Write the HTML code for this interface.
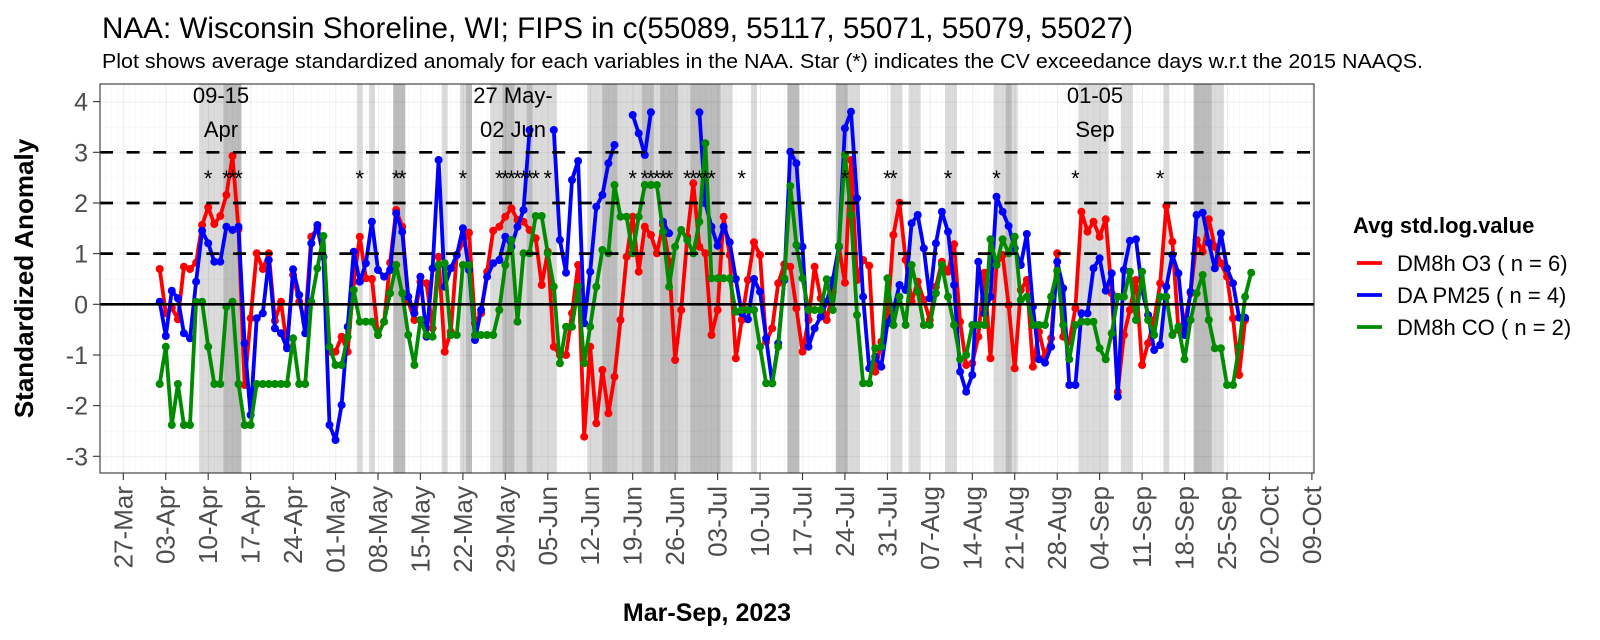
<!DOCTYPE html>
<html><head><meta charset="utf-8"><style>html,body{margin:0;padding:0;background:#fff}svg{display:block}text{font-family:"Liberation Sans",Arial,sans-serif}</style></head>
<body>
<svg width="1600" height="640" viewBox="0 0 1600 640" xmlns="http://www.w3.org/2000/svg">
<defs>
<pattern id="vmin" patternUnits="userSpaceOnUse" x="123.3" y="0" width="6.064" height="640"><line x1="0" y1="0" x2="0" y2="640" stroke="#f0f0f0" stroke-width="0.8"/></pattern>
<pattern id="vmaj" patternUnits="userSpaceOnUse" x="123.3" y="0" width="42.448" height="640"><line x1="0" y1="0" x2="0" y2="640" stroke="#e6e6e6" stroke-width="1.4"/></pattern>
<pattern id="hmin" patternUnits="userSpaceOnUse" x="0" y="278.97" width="1600" height="50.67"><line x1="0" y1="0" x2="1600" y2="0" stroke="#f0f0f0" stroke-width="0.8"/></pattern>
<pattern id="hmaj" patternUnits="userSpaceOnUse" x="0" y="304.3" width="1600" height="50.67"><line x1="0" y1="0" x2="1600" y2="0" stroke="#e6e6e6" stroke-width="1.4"/></pattern>
<marker id="mr" markerWidth="10" markerHeight="10" refX="5" refY="5" markerUnits="userSpaceOnUse"><circle cx="5" cy="5" r="4" fill="#ff0000"/></marker>
<marker id="mb" markerWidth="10" markerHeight="10" refX="5" refY="5" markerUnits="userSpaceOnUse"><circle cx="5" cy="5" r="4" fill="#0000ff"/></marker>
<marker id="mg" markerWidth="10" markerHeight="10" refX="5" refY="5" markerUnits="userSpaceOnUse"><circle cx="5" cy="5" r="4" fill="#008b00"/></marker>
<clipPath id="pc"><rect x="100" y="84" width="1214" height="389"/></clipPath>
</defs>

<text x="102" y="38" font-size="30" textLength="1031" lengthAdjust="spacingAndGlyphs">NAA: Wisconsin Shoreline, WI; FIPS in c(55089, 55117, 55071, 55079, 55027)</text>
<text x="102" y="68" font-size="20" textLength="1321" lengthAdjust="spacingAndGlyphs">Plot shows average standardized anomaly for each variables in the NAA. Star (*) indicates the CV exceedance days w.r.t the 2015 NAAQS.</text>

<g clip-path="url(#pc)">
<rect x="100" y="84" width="1214" height="389" fill="#fff"/>
<rect x="100" y="84" width="1214" height="389" fill="url(#vmin)"/>
<rect x="100" y="84" width="1214" height="389" fill="url(#hmin)"/>
<rect x="100" y="84" width="1214" height="389" fill="url(#vmaj)"/>
<rect x="100" y="84" width="1214" height="389" fill="url(#hmaj)"/>
<g fill="#000" fill-opacity="0.14">
<rect x="199.1" y="84" width="42.4" height="389"/>
<rect x="223.4" y="84" width="18.1" height="389"/>
<rect x="356.8" y="84" width="6" height="389"/>
<rect x="368.9" y="84" width="6.1" height="389"/>
<rect x="393.2" y="84" width="12.1" height="389"/>
<rect x="393.2" y="84" width="12.1" height="389"/>
<rect x="441.7" y="84" width="6" height="389"/>
<rect x="459.9" y="84" width="12.1" height="389"/>
<rect x="465.9" y="84" width="6.1" height="389"/>
<rect x="490.2" y="84" width="66.7" height="389"/>
<rect x="502.3" y="84" width="12.1" height="389"/>
<rect x="526.6" y="84" width="6" height="389"/>
<rect x="587.2" y="84" width="145.5" height="389"/>
<rect x="602.4" y="84" width="15.1" height="389"/>
<rect x="641.8" y="84" width="12.1" height="389"/>
<rect x="660" y="84" width="18.2" height="389"/>
<rect x="690.3" y="84" width="30.3" height="389"/>
<rect x="750.9" y="84" width="6.1" height="389"/>
<rect x="787.3" y="84" width="12.1" height="389"/>
<rect x="787.3" y="84" width="12.1" height="389"/>
<rect x="835.8" y="84" width="24.3" height="389"/>
<rect x="835.8" y="84" width="12.1" height="389"/>
<rect x="890.4" y="84" width="12.1" height="389"/>
<rect x="908.6" y="84" width="12.1" height="389"/>
<rect x="945" y="84" width="12" height="389"/>
<rect x="993.5" y="84" width="24.3" height="389"/>
<rect x="1005.6" y="84" width="6.1" height="389"/>
<rect x="1078.4" y="84" width="30.3" height="389"/>
<rect x="1120.8" y="84" width="12.1" height="389"/>
<rect x="1163.3" y="84" width="6" height="389"/>
<rect x="1193.6" y="84" width="18.2" height="389"/>
<rect x="1193.6" y="84" width="18.2" height="389"/>
<rect x="1211.8" y="84" width="12.1" height="389"/>
</g>

<g fill="none" stroke-width="3.8" stroke-linejoin="round">
<polyline stroke="#ff0000" marker-start="url(#mr)" marker-mid="url(#mr)" marker-end="url(#mr)" points="159.7,269 165.8,313.3 171.8,307.7 177.9,319.3 183.9,266.7 190,269 196.1,262.7 202.1,225 208.2,207.3 214.3,224 220.3,216 226.4,195 232.5,156 238.5,229.3 244.6,385 250.6,318.3 256.7,253.3 262.8,269 268.8,253.3 274.9,320.7 281,301.7 287,346.7 293.1,275 299.2,301.7 305.2,321.7 311.3,236.7 317.4,228.3 323.4,256.7 329.5,351.7 335.5,351.7 341.6,336.7 347.7,351.7 353.7,281.7 359.8,236.7 365.9,278.3 371.9,279 378,335 384.1,321.7 390.1,262.7 396.2,210 402.2,226.7 408.3,301.7 414.4,320 420.4,281.7 426.5,283.3 432.6,328.3 438.6,256.7 444.7,351.7 450.8,331.7 456.8,255 462.9,242.7 469,232.7 475,323.3 481.1,313.3 487.1,271.7 493.2,230.7 499.3,226.7 505.3,216.7 511.4,208.3 517.5,220 523.5,221.7 529.6,230 535.7,238.3 541.7,285 547.8,251.7 553.8,346.7 559.9,355 566,355 572,313.3 578.1,265 584.2,436.7 590.2,346.7 596.3,423.3 602.4,370 608.4,413.3 614.5,376.7 620.5,320 626.6,256.7 632.7,216.7 638.7,271.7 644.8,226.7 650.9,235 656.9,253.3 663,225 669.1,261.7 675.1,360 681.2,310 687.3,236.7 693.3,183.3 699.4,246.7 705.4,253.3 711.5,335 717.6,310 723.6,216.7 729.7,255 735.8,358.3 741.8,320 747.9,280 754,242.3 760,255 766.1,341.7 772.2,328.3 778.2,283.3 784.3,264.3 790.3,266.7 796.4,308.3 802.5,351.7 808.5,320 814.6,266.7 820.7,298.3 826.7,320 832.8,291.7 838.9,246.7 844.9,282.7 851,160 857,280 863.1,260 869.2,265.7 875.2,371.7 881.3,341.7 887.4,320 893.4,235 899.5,202.7 905.6,260 911.6,301.7 917.7,281.7 923.8,300 929.8,320 935.9,286.7 941.9,261.7 948,271.7 954.1,244.3 960.1,321.7 966.2,365 972.3,363.3 978.3,336.7 984.4,272.7 990.5,358.3 996.5,265 1002.6,255 1008.6,305 1014.7,368.3 1020.8,290 1026.8,280 1032.9,366.7 1039,331.7 1045,356.7 1051.1,338.3 1057.2,253.3 1063.2,336.7 1069.3,341.7 1075.4,308.3 1081.4,211.7 1087.5,231.7 1093.5,221.7 1099.6,236.7 1105.7,219.3 1111.7,293.3 1117.8,391.7 1123.9,335 1129.9,310 1136,280 1142.1,365 1148.1,343.3 1154.2,320 1160.2,283.3 1166.3,206 1172.4,241.7 1178.4,330 1184.5,323.3 1190.6,293.3 1196.6,240 1202.7,251.7 1208.8,219.3 1214.8,246.7 1220.9,263.3 1227,276.7 1233,318.3 1239.1,375 1245.1,320"/>

<g stroke="#0000ff">
<polyline marker-start="url(#mb)" marker-mid="url(#mb)" marker-end="url(#mb)" points="159.7,301.7 165.8,336 171.8,290.7 177.9,298.3 183.9,333.3 190,338.3 196.1,281.7 202.1,230.7 208.2,243.3 214.3,261.7 220.3,261.7 226.4,226.7 232.5,230 238.5,226.7 244.6,343.3 250.6,415 256.7,318.3 262.8,313.3 268.8,260 274.9,328.3 281,333.3 287,348.3 293.1,269.3 299.2,295 305.2,333.3 311.3,243.3 317.4,225 323.4,256.7 329.5,425 335.5,440 341.6,405 347.7,326.7 353.7,251.7 359.8,281.7 365.9,263.3 371.9,221.7 378,270 384.1,276.7 390.1,270 396.2,213.3 402.2,231.7 408.3,296.7 414.4,313.3 420.4,276.7 426.5,336.7 432.6,268.3 438.6,160 444.7,286.7 450.8,268.3 456.8,255 462.9,228.3 469,270 475,340 481.1,310 487.1,276.7 493.2,263.3 499.3,260 505.3,236.7 511.4,246.7 517.5,226.7 523.5,210 529.6,130"/>
<polyline marker-start="url(#mb)" marker-mid="url(#mb)" marker-end="url(#mb)" points="553.8,130 559.9,240 566,272.7 572,180 578.1,161 584.2,323.3 590.2,271.7 596.3,206.7 602.4,195 608.4,163.3 614.5,145"/>
<polyline marker-start="url(#mb)" marker-mid="url(#mb)" marker-end="url(#mb)" points="632.7,115 638.7,133.3 644.8,155 650.9,112.3"/>
<polyline marker-start="url(#mb)" marker-mid="url(#mb)" marker-end="url(#mb)" points="663,221.7 669.1,233.3"/>
<polyline marker-start="url(#mb)" marker-mid="url(#mb)" marker-end="url(#mb)" points="699.4,112.3 705.4,203.3 711.5,226.7 717.6,245.7 723.6,226.7 729.7,242.3 735.8,279 741.8,313.3 747.9,319.3 754,279 760,291.7 766.1,338.3 772.2,383.3 778.2,343.3 784.3,280 790.3,151.7 796.4,163.3 802.5,246.7 808.5,346.7 814.6,328.3 820.7,316.7 826.7,301.7 832.8,280 838.9,246.7 844.9,128.3 851,111.7 857,198.3 863.1,296.7 869.2,368.3 875.2,356.7 881.3,366.7 887.4,323.3 893.4,310 899.5,285 905.6,290 911.6,223.3 917.7,215 923.8,248.3 929.8,298.3 935.9,243.3 941.9,211.7 948,231.7 954.1,285 960.1,371.7 966.2,391.7 972.3,375 978.3,261.7 984.4,313.3 990.5,296.7 996.5,196.7 1002.6,211.7 1008.6,226 1014.7,248.3 1020.8,265 1026.8,234 1032.9,306.7 1039,359.3 1045,362.7 1051.1,346.7 1057.2,261.7 1063.2,288.3 1069.3,385 1075.4,385 1081.4,313.3 1087.5,313.3 1093.5,268.3 1099.6,258.3 1105.7,290.7 1111.7,273.3 1117.8,396.7 1123.9,270 1129.9,240.7 1136,239.3 1142.1,290 1148.1,315 1154.2,350 1160.2,345 1166.3,286.7 1172.4,255 1178.4,273.3 1184.5,335 1190.6,291.7 1196.6,215 1202.7,212.7 1208.8,242.7 1214.8,268.3 1220.9,233.3 1227,268.3 1233,283.3 1239.1,317.7 1245.1,317.7"/>
</g>

<polyline stroke="#008b00" marker-start="url(#mg)" marker-mid="url(#mg)" marker-end="url(#mg)" points="159.7,384 165.8,346.7 171.8,425 177.9,384 183.9,425 190,425 196.1,301.7 202.1,301.7 208.2,346.7 214.3,384 220.3,384 226.4,306.7 232.5,301.7 238.5,384 244.6,425 250.6,425 256.7,384 262.8,384 268.8,384 274.9,384 281,384 287,384 293.1,338.3 299.2,384 305.2,384 311.3,301.7 317.4,268.3 323.4,236 329.5,346.7 335.5,365 341.6,365 347.7,336.7 353.7,290 359.8,321.7 365.9,321.7 371.9,321.7 378,335 384.1,321.7 390.1,293.3 396.2,265 402.2,293.3 408.3,335 414.4,365 420.4,320 426.5,335 432.6,336.7 438.6,265 444.7,263.3 450.8,335 456.8,335 462.9,265 469,265 475,335 481.1,335 487.1,335 493.2,335 499.3,310 505.3,265 511.4,240 517.5,321.7 523.5,253.3 529.6,253.3 535.7,216 541.7,216 547.8,253.3 553.8,286.7 559.9,363.3 566,326.7 572,326.7 578.1,286.7 584.2,363.3 590.2,326.7 596.3,286.7 602.4,250 608.4,253.3 614.5,185 620.5,216.7 626.6,216.7 632.7,253.3 638.7,216.7 644.8,185 650.9,185 656.9,185 663,231.7 669.1,286.7 675.1,246.7 681.2,230 687.3,240 693.3,253.3 699.4,221.7 705.4,143.3 711.5,278.3 717.6,278.3 723.6,278.3 729.7,278.3 735.8,311.7 741.8,310 747.9,310 754,310 760,346.7 766.1,383.3 772.2,383.3 778.2,346.7 784.3,278.3 790.3,186 796.4,245 802.5,278.3 808.5,310 814.6,310 820.7,310 826.7,279.3 832.8,310 838.9,246 844.9,155 851,215 857,315 863.1,383.3 869.2,383.3 875.2,348.3 881.3,346.7 887.4,278.3 893.4,325 899.5,296.7 905.6,325 911.6,265 917.7,291.7 923.8,325 929.8,325 935.9,293.3 941.9,265 948,296.7 954.1,325 960.1,359.3 966.2,355 972.3,325 978.3,325 984.4,325 990.5,239.3 996.5,265 1002.6,239.3 1008.6,253.3 1014.7,236.7 1020.8,300 1026.8,296.7 1032.9,325 1039,325 1045,325 1051.1,296.7 1057.2,270.7 1063.2,325 1069.3,359.3 1075.4,325 1081.4,321.7 1087.5,321.7 1093.5,321.7 1099.6,348.3 1105.7,359.3 1111.7,333.3 1117.8,296.7 1123.9,296.7 1129.9,271.7 1136,320 1142.1,271.7 1148.1,320 1154.2,335 1160.2,296.7 1166.3,296.7 1172.4,335 1178.4,326.7 1184.5,359.3 1190.6,320 1196.6,293.3 1202.7,275 1208.8,320 1214.8,348.3 1220.9,348.3 1227,385 1233,385 1239.1,346.7 1245.1,296.7 1251.2,272.7"/>
</g>

<g stroke="#000" stroke-width="2.7">
<line x1="100" y1="152.3" x2="1314" y2="152.3" stroke-dasharray="13 13.6"/>
<line x1="100" y1="203" x2="1314" y2="203" stroke-dasharray="13 13.6"/>
<line x1="100" y1="253.6" x2="1314" y2="253.6" stroke-dasharray="13 13.6"/>
<line x1="100" y1="304.3" x2="1314" y2="304.3"/>
</g>

<g font-size="22" text-anchor="middle" fill="#000">
<text x="208.2" y="186">*</text><text x="226.4" y="186">*</text><text x="232.5" y="186">*</text><text x="238.5" y="186">*</text>
<text x="359.8" y="186">*</text><text x="396.2" y="186">*</text><text x="402.2" y="186">*</text><text x="462.9" y="186">*</text>
<text x="499.3" y="186">*</text><text x="505.3" y="186">*</text><text x="511.4" y="186">*</text><text x="517.5" y="186">*</text><text x="523.5" y="186">*</text><text x="529.6" y="186">*</text><text x="535.7" y="186">*</text>
<text x="547.8" y="186">*</text>
<text x="632.7" y="186">*</text><text x="644.8" y="186">*</text><text x="650.9" y="186">*</text><text x="656.9" y="186">*</text><text x="663" y="186">*</text><text x="669.1" y="186">*</text>
<text x="687.3" y="186">*</text><text x="693.3" y="186">*</text><text x="699.4" y="186">*</text><text x="705.4" y="186">*</text><text x="711.5" y="186">*</text>
<text x="741.8" y="186">*</text><text x="844.9" y="186">*</text><text x="887.4" y="186">*</text><text x="893.4" y="186">*</text>
<text x="948" y="186">*</text><text x="996.5" y="186">*</text><text x="1075.4" y="186">*</text><text x="1160.2" y="186">*</text>
</g>

<g font-size="22" text-anchor="middle" fill="#000">
<text x="221" y="103">09-15</text><text x="221" y="137">Apr</text>
<text x="513" y="103">27 May-</text><text x="513" y="137">02 Jun</text>
<text x="1095" y="103">01-05</text><text x="1095" y="137">Sep</text>
</g>
</g>

<rect x="100" y="84" width="1214" height="389" fill="none" stroke="#333" stroke-width="1.1"/>

<g stroke="#333" stroke-width="1.1">
<line x1="93" y1="101.6" x2="100" y2="101.6"/><line x1="93" y1="152.3" x2="100" y2="152.3"/><line x1="93" y1="203" x2="100" y2="203"/><line x1="93" y1="253.6" x2="100" y2="253.6"/><line x1="93" y1="304.3" x2="100" y2="304.3"/><line x1="93" y1="355" x2="100" y2="355"/><line x1="93" y1="405.6" x2="100" y2="405.6"/><line x1="93" y1="456.3" x2="100" y2="456.3"/>
</g>
<g font-size="25" text-anchor="end" fill="#4d4d4d">
<text x="88" y="110.6">4</text><text x="88" y="161.3">3</text><text x="88" y="212">2</text><text x="88" y="262.6">1</text><text x="88" y="313.3">0</text><text x="88" y="364">-1</text><text x="88" y="414.6">-2</text><text x="88" y="465.3">-3</text>
</g>
<text transform="translate(33,278.5) rotate(-90)" font-size="26" font-weight="bold" text-anchor="middle">Standardized Anomaly</text>

<g stroke="#333" stroke-width="1.1">
<line x1="123.3" y1="473" x2="123.3" y2="480"/><line x1="165.7" y1="473" x2="165.7" y2="480"/><line x1="208.2" y1="473" x2="208.2" y2="480"/><line x1="250.6" y1="473" x2="250.6" y2="480"/><line x1="293.1" y1="473" x2="293.1" y2="480"/><line x1="335.5" y1="473" x2="335.5" y2="480"/><line x1="378" y1="473" x2="378" y2="480"/><line x1="420.4" y1="473" x2="420.4" y2="480"/><line x1="462.9" y1="473" x2="462.9" y2="480"/><line x1="505.3" y1="473" x2="505.3" y2="480"/><line x1="547.8" y1="473" x2="547.8" y2="480"/><line x1="590.2" y1="473" x2="590.2" y2="480"/><line x1="632.7" y1="473" x2="632.7" y2="480"/><line x1="675.1" y1="473" x2="675.1" y2="480"/><line x1="717.6" y1="473" x2="717.6" y2="480"/><line x1="760" y1="473" x2="760" y2="480"/><line x1="802.5" y1="473" x2="802.5" y2="480"/><line x1="844.9" y1="473" x2="844.9" y2="480"/><line x1="887.4" y1="473" x2="887.4" y2="480"/><line x1="929.8" y1="473" x2="929.8" y2="480"/><line x1="972.3" y1="473" x2="972.3" y2="480"/><line x1="1014.7" y1="473" x2="1014.7" y2="480"/><line x1="1057.2" y1="473" x2="1057.2" y2="480"/><line x1="1099.6" y1="473" x2="1099.6" y2="480"/><line x1="1142.1" y1="473" x2="1142.1" y2="480"/><line x1="1184.5" y1="473" x2="1184.5" y2="480"/><line x1="1227" y1="473" x2="1227" y2="480"/><line x1="1269.4" y1="473" x2="1269.4" y2="480"/><line x1="1311.9" y1="473" x2="1311.9" y2="480"/>
</g>
<g font-size="26" text-anchor="end" fill="#4d4d4d">
<text transform="translate(132.3,486) rotate(-90)">27-Mar</text>
<text transform="translate(174.7,486) rotate(-90)">03-Apr</text>
<text transform="translate(217.2,486) rotate(-90)">10-Apr</text>
<text transform="translate(259.6,486) rotate(-90)">17-Apr</text>
<text transform="translate(302.1,486) rotate(-90)">24-Apr</text>
<text transform="translate(344.5,486) rotate(-90)">01-May</text>
<text transform="translate(387,486) rotate(-90)">08-May</text>
<text transform="translate(429.4,486) rotate(-90)">15-May</text>
<text transform="translate(471.9,486) rotate(-90)">22-May</text>
<text transform="translate(514.3,486) rotate(-90)">29-May</text>
<text transform="translate(556.8,486) rotate(-90)">05-Jun</text>
<text transform="translate(599.2,486) rotate(-90)">12-Jun</text>
<text transform="translate(641.7,486) rotate(-90)">19-Jun</text>
<text transform="translate(684.1,486) rotate(-90)">26-Jun</text>
<text transform="translate(726.6,486) rotate(-90)">03-Jul</text>
<text transform="translate(769,486) rotate(-90)">10-Jul</text>
<text transform="translate(811.5,486) rotate(-90)">17-Jul</text>
<text transform="translate(853.9,486) rotate(-90)">24-Jul</text>
<text transform="translate(896.4,486) rotate(-90)">31-Jul</text>
<text transform="translate(938.8,486) rotate(-90)">07-Aug</text>
<text transform="translate(981.3,486) rotate(-90)">14-Aug</text>
<text transform="translate(1023.7,486) rotate(-90)">21-Aug</text>
<text transform="translate(1066.2,486) rotate(-90)">28-Aug</text>
<text transform="translate(1108.6,486) rotate(-90)">04-Sep</text>
<text transform="translate(1151.1,486) rotate(-90)">11-Sep</text>
<text transform="translate(1193.5,486) rotate(-90)">18-Sep</text>
<text transform="translate(1236,486) rotate(-90)">25-Sep</text>
<text transform="translate(1278.4,486) rotate(-90)">02-Oct</text>
<text transform="translate(1320.9,486) rotate(-90)">09-Oct</text>
</g>
<text x="707" y="621" font-size="25" font-weight="bold" text-anchor="middle">Mar-Sep, 2023</text>

<text x="1353" y="233" font-size="22" font-weight="bold">Avg std.log.value</text>
<g stroke-width="3.8">
<line x1="1357" y1="263" x2="1382" y2="263" stroke="#ff0000"/>
<line x1="1357" y1="295" x2="1382" y2="295" stroke="#0000ff"/>
<line x1="1357" y1="327" x2="1382" y2="327" stroke="#008b00"/>
</g>
<g font-size="22" fill="#000">
<text x="1397" y="271">DM8h O3 ( n = 6)</text>
<text x="1397" y="303">DA PM25 ( n = 4)</text>
<text x="1397" y="335">DM8h CO ( n = 2)</text>
</g>
</svg>
</body></html>
